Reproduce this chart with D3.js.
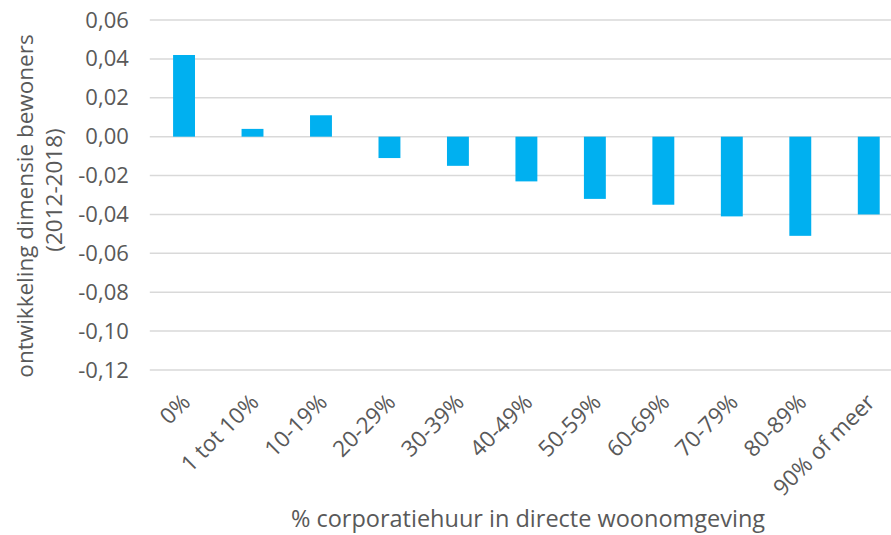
<!DOCTYPE html>
<html>
<head>
<meta charset="utf-8">
<script src="https://cdn.jsdelivr.net/npm/d3@7"></script>
<style>
  html, body { margin: 0; padding: 0; background: #fff; }
  svg text { font-family: "Open Sans", sans-serif; fill: #595959; }
</style>
</head>
<body>
<svg id="chart" width="891" height="535"></svg>
<script>
// Categories: share of housing-corporation rentals in the immediate neighbourhood
const categories = ["0%", "1 tot 10%", "10-19%", "20-29%", "30-39%", "40-49%",
                    "50-59%", "60-69%", "70-79%", "80-89%", "90% of meer"];
// Change in the residents dimension score, 2012-2018
const values = [0.042, 0.004, 0.011, -0.011, -0.015, -0.023,
                -0.032, -0.035, -0.041, -0.051, -0.040];
const yTicks = [0.06, 0.04, 0.02, 0.00, -0.02, -0.04, -0.06, -0.08, -0.10, -0.12];
const yTitleLines = ["ontwikkeling dimensie bewoners", "(2012-2018)"];
const xTitle = "% corporatiehuur in directe woonomgeving";

const svg = d3.select("#chart");
const plot = { left: 149.8, right: 903, top: 20, bottom: 370 };
const fontSize = 22.5;

const x = d3.scaleBand()
  .domain(categories)
  .range([plot.left, plot.right])
  .paddingInner(0.68)
  .paddingOuter(0.34);

const y = d3.scaleLinear()
  .domain([-0.12, 0.06])
  .range([plot.bottom, plot.top]);

const nl = d3.formatLocale({ decimal: ",", thousands: ".", grouping: [3], currency: ["€", ""], minus: "-" });
const fmt = nl.format(".2f");

// Horizontal gridlines
svg.append("g")
  .selectAll("line")
  .data(yTicks)
  .join("line")
  .attr("x1", plot.left)
  .attr("x2", plot.right)
  .attr("y1", d => y(d))
  .attr("y2", d => y(d))
  .attr("stroke", "#d9d9d9")
  .attr("stroke-width", 1.5);

// Y axis labels
const yAxis = svg.append("g")
  .attr("transform", `translate(${plot.left},0)`)
  .call(d3.axisLeft(y).tickValues(yTicks).tickFormat(fmt).tickSize(0).tickPadding(21));
yAxis.select(".domain").remove();
yAxis.selectAll("text")
  .attr("font-size", 22)
  .style("font-family", "'Open Sans', sans-serif")
  .attr("fill", "#595959");

// Bars
svg.append("g")
  .selectAll("rect")
  .data(values)
  .join("rect")
  .attr("x", (d, i) => x(categories[i]))
  .attr("width", x.bandwidth())
  .attr("y", d => y(Math.max(0, d)))
  .attr("height", d => Math.abs(y(d) - y(0)))
  .attr("fill", "#00b0f0");

// X axis labels, rotated
const xAxis = svg.append("g")
  .attr("transform", `translate(0,${plot.bottom})`)
  .call(d3.axisBottom(x).tickSize(0));
xAxis.select(".domain").remove();
xAxis.selectAll("text")
  .attr("font-size", fontSize)
  .style("font-family", "'Open Sans', sans-serif")
  .attr("fill", "#595959")
  .attr("x", 0)
  .attr("y", 0)
  .attr("dy", "0.35em")
  .attr("text-anchor", "end")
  .attr("transform", "translate(2,28) rotate(-45)");

// Axis titles
svg.append("text")
  .attr("transform", "translate(33,206) rotate(-90)")
  .attr("text-anchor", "middle")
  .attr("font-size", fontSize)
  .text(yTitleLines[0]);
svg.append("text")
  .attr("transform", "translate(62,190) rotate(-90)")
  .attr("text-anchor", "middle")
  .attr("font-size", fontSize)
  .text(yTitleLines[1]);

svg.append("text")
  .attr("x", 528)
  .attr("y", 527)
  .attr("text-anchor", "middle")
  .attr("font-size", 23.5)
  .text(xTitle);
</script>
</body>
</html>
